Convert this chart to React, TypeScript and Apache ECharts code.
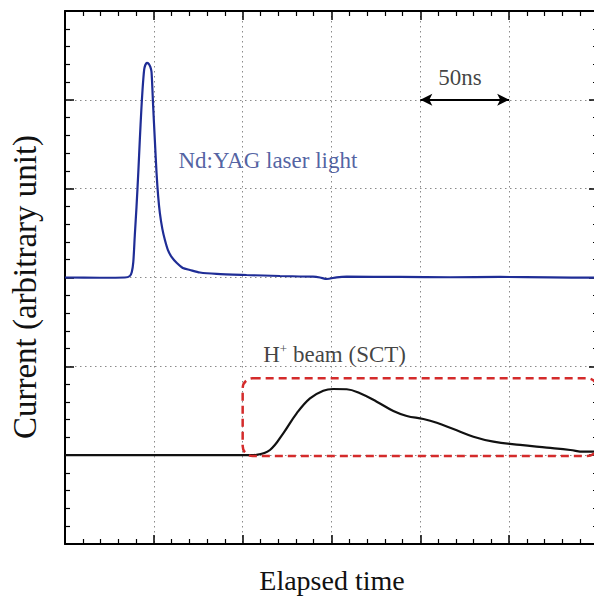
import React, { useEffect, useRef } from "react";
import * as echarts from "echarts";

// Nd:YAG laser light (time in ns, current in arbitrary units)
const laserTime = [0, 19.6, 33.7, 36.5, 37.6, 38.45, 39.3, 40.25, 41.27, 42.11, 42.96, 43.63, 44.54, 45.21, 46.06, 47.18, 48.03, 48.7, 49.61, 50.56, 51.52, 52.42, 53.38, 54.79, 56.2, 57.89, 59.97, 62.96, 66.34, 70.28, 75.92, 85.33, 102.22, 120.99, 139.58, 143.52, 147.3, 152.93, 158.56, 188.59, 216.76, 244.93, 273.1, 297.3, 300];
const laserValue = [3.0, 2.997, 3.0, 3.017, 3.062, 3.175, 3.479, 3.795, 4.189, 4.549, 4.886, 5.111, 5.336, 5.392, 5.415, 5.404, 5.37, 5.314, 4.931, 4.549, 4.178, 3.918, 3.727, 3.547, 3.424, 3.311, 3.232, 3.163, 3.107, 3.085, 3.056, 3.04, 3.028, 3.017, 3.009, 3.0, 2.983, 3.002, 3.009, 3.006, 3.003, 3.006, 3.002, 2.998, 2.998];

// H+ beam (SCT)
const beamTime = [0, 87.2, 104.1, 107.86, 115.36, 122.84, 130.39, 137.88, 145.38, 151.01, 158.56, 166.05, 175.46, 184.81, 192.37, 201.72, 209.27, 218.62, 229.89, 241.15, 256.2, 271.2, 284.4, 291.9, 297.5, 300];
const beamValue = [1.0, 1.0, 1.0, 1.004, 1.058, 1.246, 1.471, 1.64, 1.726, 1.745, 1.742, 1.697, 1.602, 1.497, 1.441, 1.407, 1.365, 1.294, 1.208, 1.152, 1.115, 1.085, 1.058, 1.039, 1.039, 1.039];

// dashed box around the beam pulse: [x0, y0, x1, y1]
const beamBox = [100, 0.99, 299.6, 1.865];

// 50 ns scale arrow
const arrowStart = [200, 5];
const arrowEnd = [250, 5];

// annotations: [x, y, text]
const laserLabel = [63.6, 4.32, "Nd:YAG laser light"];
const beamLabel = [111.3, 2.13, "H{sup|+} beam (SCT)"];
const scaleLabel = [222.3, 5.25, "50ns"];

const xTitle = "Elapsed time";
const yTitle = "Current (arbitrary unit)";

const xTicks = { min: 0, max: 300, interval: 50 };
const yTicks = { min: 0, max: 6, interval: 1 };

const FONT = "'Liberation Serif', 'Times New Roman', serif";

function axisBase(extra: any) {
  return {
    type: "value",
    axisLine: { show: true, onZero: false, lineStyle: { color: "#000", width: 2 } },
    axisTick: { show: true, inside: true, length: 9, lineStyle: { color: "#000", width: 1.5 } },
    minorTick: { show: true, splitNumber: 5, length: 5, lineStyle: { color: "#000", width: 1.2 } },
    axisLabel: { show: false },
    ...extra,
  };
}

const gridLine = { show: true, lineStyle: { color: "#8a8a8a", width: 1, type: [1.5, 3.5] } };

export default function App() {
  const ref = useRef<HTMLDivElement>(null);
  useEffect(() => {
    if (!ref.current) return;
    const chart = echarts.init(ref.current, undefined, { renderer: "svg" });
    const laserData = laserTime.map((t, i) => [t, laserValue[i]]);
    const beamData = beamTime.map((t, i) => [t, beamValue[i]]);
    chart.setOption({
      animation: false,
      backgroundColor: "#fff",
      grid: { left: 65, top: 11, width: 533, height: 533, outerBoundsMode: "none", containLabel: false },
      graphic: [
        {
          type: "text",
          x: 332,
          y: 580,
          style: {
            text: xTitle,
            font: `28px ${FONT}`,
            fill: "#111",
            textAlign: "center",
            textVerticalAlign: "middle",
          },
        },
        {
          type: "text",
          x: 25,
          y: 287,
          rotation: Math.PI / 2,
          style: {
            text: yTitle,
            font: `33px ${FONT}`,
            fill: "#111",
            textAlign: "center",
            textVerticalAlign: "middle",
          },
        },
      ],
      xAxis: [
        axisBase({ ...xTicks, position: "bottom", splitLine: gridLine }),
        axisBase({ ...xTicks, position: "top", splitLine: { show: false } }),
      ],
      yAxis: [
        axisBase({ ...yTicks, position: "left", splitLine: gridLine }),
        axisBase({ ...yTicks, position: "right", splitLine: { show: false } }),
      ],
      series: [
        {
          type: "line",
          data: laserData,
          showSymbol: false,
          smooth: 0.25,
          lineStyle: { color: "#1f2d96", width: 2.2 },
          z: 3,
          markLine: {
            silent: true,
            symbol: ["arrow", "arrow"],
            symbolSize: [9, 12],
            label: { show: false },
            lineStyle: { color: "#000", width: 2, type: "solid" },
            data: [[{ coord: arrowStart }, { coord: arrowEnd }]],
          },
        },
        {
          type: "line",
          data: beamData,
          showSymbol: false,
          smooth: 0.4,
          lineStyle: { color: "#111", width: 2.2 },
          z: 3,
        },
        {
          type: "custom",
          clip: false,
          z: 4,
          data: [beamBox],
          encode: { x: [0, 2], y: [1, 3] },
          renderItem: (params: any, api: any) => {
            const p1 = api.coord([api.value(0), api.value(3)]);
            const p2 = api.coord([api.value(2), api.value(1)]);
            return {
              type: "rect",
              shape: { x: p1[0], y: p1[1], width: p2[0] - p1[0], height: p2[1] - p1[1], r: 10 },
              style: { fill: "none", stroke: "#d42b2b", lineWidth: 2.5, lineDash: [8, 5] },
            };
          },
        },
        {
          type: "scatter",
          symbolSize: 1,
          itemStyle: { color: "rgba(0,0,0,0)" },
          silent: true,
          z: 5,
          data: [
            {
              value: [laserLabel[0], laserLabel[1]],
              label: {
                show: true,
                position: "right",
                distance: 0,
                formatter: laserLabel[2],
                fontFamily: FONT,
                fontSize: 23,
                color: "#26398a",
              },
            },
            {
              value: [beamLabel[0], beamLabel[1]],
              label: {
                show: true,
                position: "right",
                distance: 0,
                formatter: beamLabel[2],
                fontFamily: FONT,
                fontSize: 23,
                color: "#111",
                rich: {
                  sup: { fontFamily: FONT, fontSize: 13, color: "#111", verticalAlign: "top", padding: [0, 0, 12, 0] },
                },
              },
            },
            {
              value: [scaleLabel[0], scaleLabel[1]],
              label: {
                show: true,
                position: "inside",
                formatter: scaleLabel[2],
                fontFamily: FONT,
                fontSize: 23,
                color: "#111",
              },
            },
          ],
        },
      ],
    });
    return () => chart.dispose();
  }, []);
  return <div ref={ref} style={{ position: "absolute", left: 0, top: 0, width: 594, height: 596 }} />;
}
